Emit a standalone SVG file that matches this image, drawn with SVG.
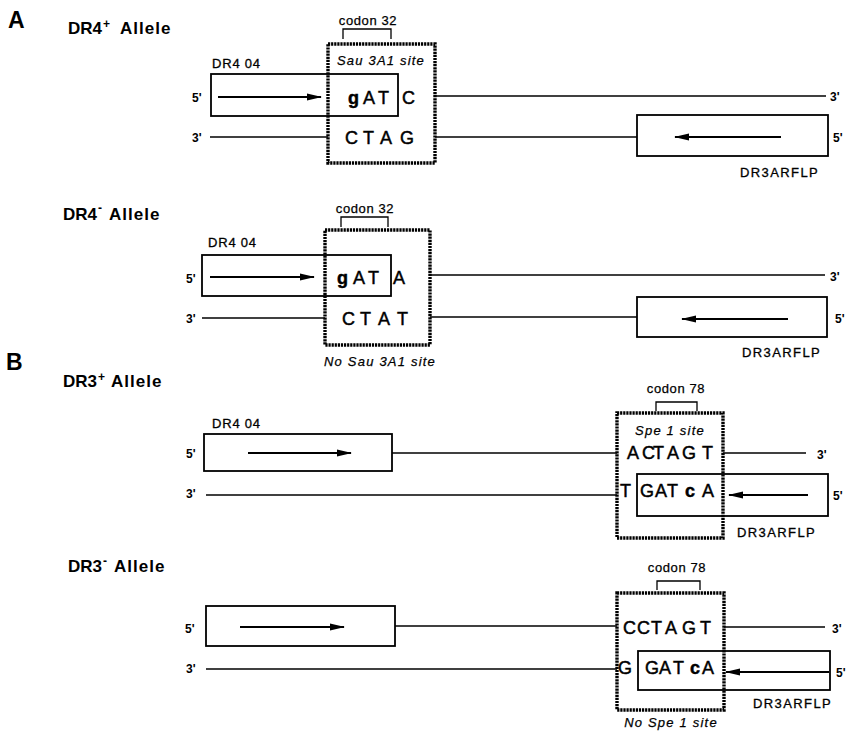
<svg xmlns="http://www.w3.org/2000/svg" width="847" height="734" viewBox="0 0 847 734">
<style>
text{font-family:"Liberation Sans",Arial,Helvetica,sans-serif;fill:#000}
.panel{font-size:23px;font-weight:bold}
.head{font-size:17px;font-weight:bold}
.sup{font-size:12px;font-weight:bold}
.end{font-size:12px;font-weight:bold}
.lbl{font-size:13px;letter-spacing:0.8px;stroke:#000;stroke-width:0.3}
.prim{font-size:13px;letter-spacing:1.4px;stroke:#000;stroke-width:0.3}
.site{font-size:13px;font-style:italic;letter-spacing:1.2px;stroke:#000;stroke-width:0.25}
.codon{font-size:13px;letter-spacing:0.6px;stroke:#000;stroke-width:0.25}
.seq{font-size:18px;stroke:#000;stroke-width:0.45}
.low{font-weight:bold}
.box{fill:none;stroke:#000;stroke-width:1.8}
.hatch{fill:none;stroke:#000;stroke-width:3.4;stroke-dasharray:2.2 0.9}
.strand{fill:none;stroke:#000;stroke-width:1.5}
.arr{fill:none;stroke:#000;stroke-width:2;marker-end:url(#ah)}
.brk{fill:none;stroke:#000;stroke-width:1.3}
</style>
<defs>
<marker id="ah" markerUnits="userSpaceOnUse" markerWidth="15" markerHeight="8" refX="14" refY="4" orient="auto">
<path d="M0,0.5 L15,4 L0,7.5 z" fill="#000"/>
</marker>
</defs>
<rect width="847" height="734" fill="#fff"/>

<!-- Panel A : DR4+ -->
<g id="panelA">
<text class="panel" x="8" y="28">A</text>
</g>
<g id="dr4plus-heading">
<text class="head" x="68" y="34">DR4<tspan class="sup" x="103" y="28">+</tspan><tspan x="120" y="34" letter-spacing="1">Allele</tspan></text>
</g>
<g id="dr4plus-site">
<text class="codon" x="368" y="25" text-anchor="middle">codon 32</text>
<path class="brk" d="M343 39 V29 H391 V39"/>
<rect class="hatch" x="328" y="44" width="107" height="119"/>
<text class="site" x="381" y="65" text-anchor="middle">Sau 3A1 site</text>
</g>
<g id="dr4plus-primer-left">
<text class="lbl" x="212" y="68">DR4 04</text>
<rect class="box" x="211" y="74" width="187" height="42"/>
<text class="end" x="192" y="102">5'</text>
</g>
<g id="dr4plus-seq">
<text class="seq" x="348 363 378" y="104"><tspan class="low">g</tspan>AT</text>
<text class="seq" x="402" y="104">C</text>
<text class="seq" x="345 363 380 400" y="144">CTAG</text>
</g>
<g id="dr4plus-primer-right">
<rect class="box" x="637" y="115" width="191" height="41"/>
<text class="end" x="833" y="142">5'</text>
<text class="prim" x="740" y="177">DR3ARFLP</text>
</g>
<g id="dr4plus-ends">
<text class="end" x="830" y="101">3'</text>
<text class="end" x="192" y="142">3'</text>
</g>

<!-- DR4- -->
<g id="dr4minus-heading">
<text class="head" x="63" y="220">DR4<tspan class="sup" x="98" y="212">-</tspan><tspan x="109" y="220" letter-spacing="1">Allele</tspan></text>
</g>
<g id="dr4minus-site">
<text class="codon" x="365" y="213" text-anchor="middle">codon 32</text>
<path class="brk" d="M341 227 V217 H388 V227"/>
<rect class="hatch" x="325" y="230" width="105" height="115"/>
<text class="site" x="380" y="366" text-anchor="middle">No Sau 3A1 site</text>
</g>
<g id="dr4minus-primer-left">
<text class="lbl" x="208" y="247">DR4 04</text>
<rect class="box" x="202" y="255" width="189" height="41"/>
<text class="end" x="186" y="283">5'</text>
</g>
<g id="dr4minus-seq">
<text class="seq" x="337 353 368" y="284"><tspan class="low">g</tspan>AT</text>
<text class="seq" x="393" y="284">A</text>
<text class="seq" x="342 360 378 397" y="325">CTAT</text>
</g>
<g id="dr4minus-primer-right">
<rect class="box" x="637" y="297" width="190" height="40"/>
<text class="end" x="835" y="323">5'</text>
<text class="prim" x="742" y="357">DR3ARFLP</text>
</g>
<g id="dr4minus-ends">
<text class="end" x="830" y="281">3'</text>
<text class="end" x="186" y="323">3'</text>
</g>

<!-- Panel B : DR3+ -->
<g id="panelB">
<text class="panel" x="6" y="370">B</text>
</g>
<g id="dr3plus-heading">
<text class="head" x="63" y="387">DR3<tspan class="sup" x="98" y="381">+</tspan><tspan x="111" y="387" letter-spacing="1">Allele</tspan></text>
</g>
<g id="dr3plus-primer-left">
<text class="lbl" x="212" y="428">DR4 04</text>
<rect class="box" x="204" y="434" width="188" height="37"/>
<text class="end" x="186" y="458">5'</text>
</g>
<g id="dr3plus-site">
<text class="codon" x="676" y="393" text-anchor="middle">codon 78</text>
<path class="brk" d="M656 411 V402 H697 V411"/>
<rect class="hatch" x="617" y="413" width="106" height="125"/>
<text class="site" x="670" y="435" text-anchor="middle">Spe 1 site</text>
</g>
<g id="dr3plus-seq">
<text class="seq" x="627 642 653 667 682 702" y="459">ACTAGT</text>
<text class="seq" x="620" y="497">T</text>
<text class="seq" x="640 655 667 685 702" y="497">GAT<tspan class="low">c</tspan>A</text>
</g>
<g id="dr3plus-primer-right">
<rect class="box" x="637" y="474" width="191" height="42"/>
<text class="end" x="833" y="500">5'</text>
<text class="prim" x="737" y="537">DR3ARFLP</text>
</g>
<g id="dr3plus-ends">
<text class="end" x="817" y="459">3'</text>
<text class="end" x="186" y="498">3'</text>
</g>

<!-- DR3- -->
<g id="dr3minus-heading">
<text class="head" x="68" y="572">DR3<tspan class="sup" x="103" y="565">-</tspan><tspan x="114" y="572" letter-spacing="1">Allele</tspan></text>
</g>
<g id="dr3minus-primer-left">
<rect class="box" x="206" y="606" width="189" height="40"/>
<text class="end" x="185" y="633">5'</text>
</g>
<g id="dr3minus-site">
<text class="codon" x="677" y="572" text-anchor="middle">codon 78</text>
<path class="brk" d="M657 590 V581 H700 V590"/>
<rect class="hatch" x="617" y="593" width="107" height="117"/>
<text class="site" x="671" y="727" text-anchor="middle">No Spe 1 site</text>
</g>
<g id="dr3minus-seq">
<text class="seq" x="623 637 651 665 682 700" y="634">CCTAGT</text>
<text class="seq" x="618" y="674">G</text>
<text class="seq" x="645 659 673 690 702" y="674">GAT<tspan class="low">c</tspan>A</text>
</g>
<g id="dr3minus-primer-right">
<rect class="box" x="638" y="651" width="192" height="39"/>
<text class="end" x="836" y="677">5'</text>
<text class="prim" x="753" y="708">DR3ARFLP</text>
</g>
<g id="dr3minus-ends">
<text class="end" x="832" y="633">3'</text>
<text class="end" x="186" y="673">3'</text>
</g>

<g id="connectors">
<!-- DR4+ -->
<line class="strand" x1="435" y1="96" x2="826" y2="96"/>
<line class="strand" x1="210" y1="137" x2="328" y2="137"/>
<line class="strand" x1="435" y1="137" x2="637" y2="137"/>
<line class="arr" x1="218" y1="97" x2="321" y2="97"/>
<line class="arr" x1="781" y1="137" x2="675" y2="137"/>
<!-- DR4- -->
<line class="strand" x1="430" y1="275" x2="825" y2="275"/>
<line class="strand" x1="202" y1="318" x2="325" y2="318"/>
<line class="strand" x1="430" y1="317" x2="637" y2="317"/>
<line class="arr" x1="210" y1="277" x2="314" y2="277"/>
<line class="arr" x1="788" y1="319" x2="682" y2="319"/>
<!-- DR3+ -->
<line class="strand" x1="392" y1="453" x2="617" y2="453"/>
<line class="strand" x1="723" y1="453" x2="806" y2="453"/>
<line class="strand" x1="206" y1="495" x2="617" y2="495"/>
<line class="arr" x1="248" y1="453" x2="351" y2="453"/>
<line class="arr" x1="808" y1="495" x2="729" y2="495"/>
<!-- DR3- -->
<line class="strand" x1="395" y1="626" x2="617" y2="626"/>
<line class="strand" x1="724" y1="627" x2="825" y2="627"/>
<line class="strand" x1="206" y1="669" x2="617" y2="669"/>
<line class="arr" x1="240" y1="627" x2="344" y2="627"/>
<line class="arr" x1="829" y1="672" x2="726" y2="672"/>
</g>
</svg>
